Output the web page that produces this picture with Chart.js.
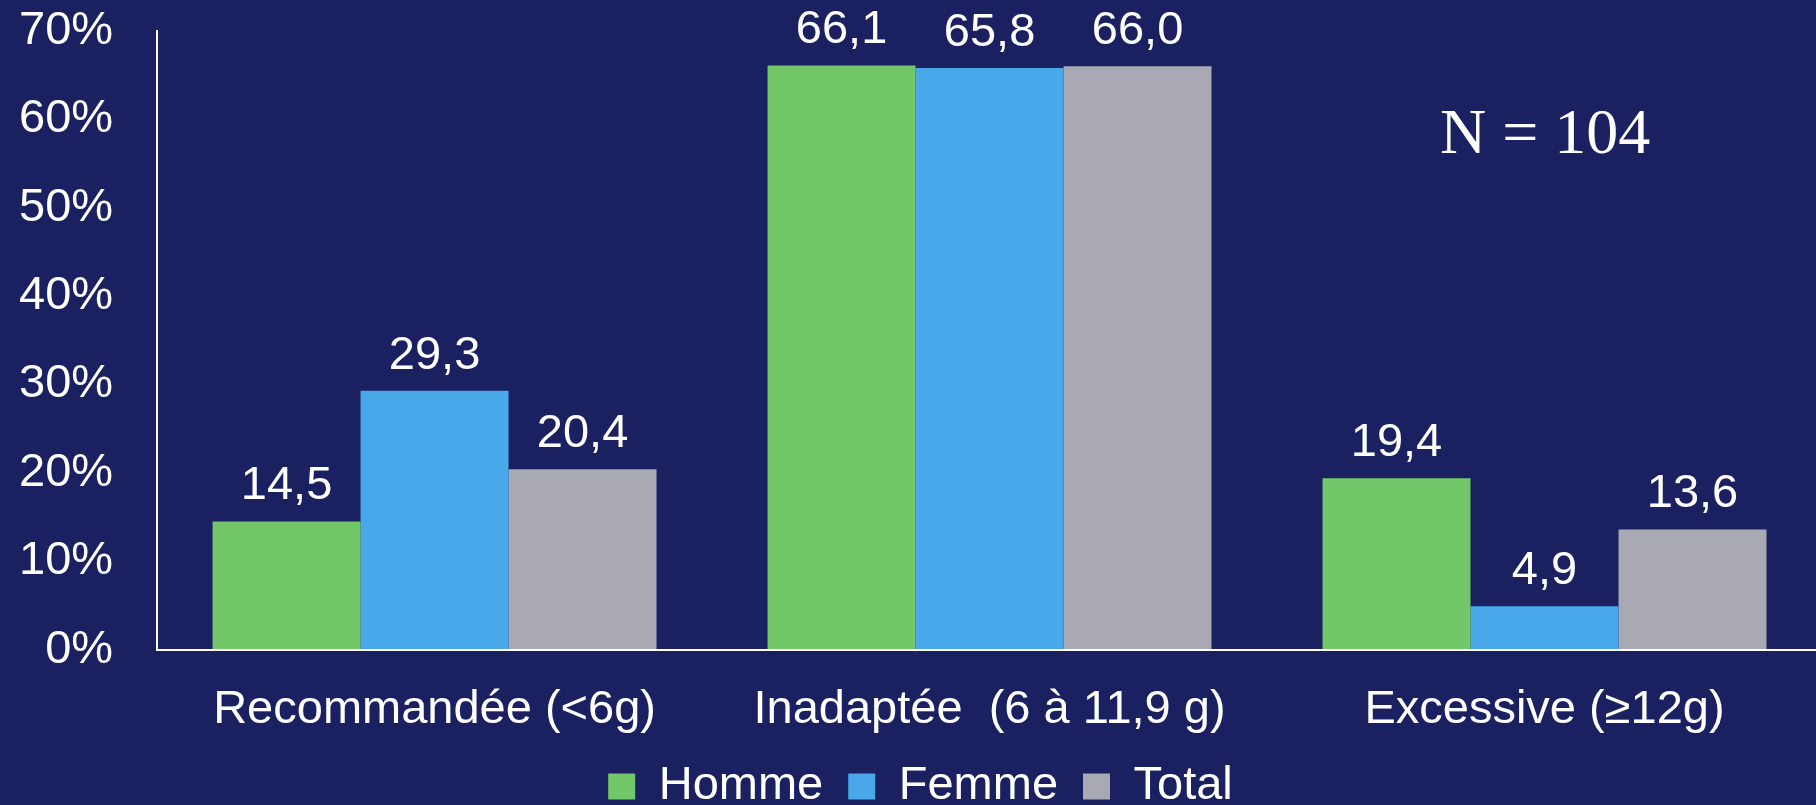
<!DOCTYPE html>
<html lang="fr">
<head>
<meta charset="UTF-8">
<title>Consommation de sel</title>
<script src="https://cdn.jsdelivr.net/npm/chart.js"></script>
<style>
  html, body {
    margin: 0;
    padding: 0;
    overflow: hidden;
    background: #1a2060;
  }
  .graphique {
    position: absolute;
    left: 0;
    top: 0;
    width: 1822px;
    height: 820px;
  }
</style>
</head>
<body>
<div class="graphique">
  <canvas id="graphiqueSel"></canvas>
</div>

<script>
// catégories et pourcentages par groupe
const categories = ['Recommandée (<6g)', 'Inadaptée  (6 à 11,9 g)', 'Excessive (≥12g)'];
const homme = [14.5, 66.1, 19.4];
const femme = [29.3, 65.8, 4.9];
const total = [20.4, 66.0, 13.6];
const effectif = 'N = 104';

const blanc = '#ffffff';
const police = 'Liberation Sans, Arial, sans-serif';

// valeurs au-dessus des barres + effectif en haut à droite
const etiquettes = {
  id: 'etiquettes',
  afterDatasetsDraw(chart) {
    const ctx = chart.ctx;
    ctx.save();
    ctx.fillStyle = blanc;
    ctx.font = '47px ' + police;
    ctx.textAlign = 'center';
    ctx.textBaseline = 'alphabetic';
    chart.data.datasets.forEach((ds, i) => {
      chart.getDatasetMeta(i).data.forEach((barre, j) => {
        ctx.fillText(ds.data[j].toFixed(1).replace('.', ','), barre.x, barre.y - 22);
      });
    });
    ctx.font = '64px Liberation Serif, Times New Roman, serif';
    ctx.textAlign = 'left';
    ctx.fillText(effectif, 1440, 153);
    ctx.restore();
  }
};

new Chart(document.getElementById('graphiqueSel'), {
  type: 'bar',
  data: {
    labels: categories,
    datasets: [
      { label: 'Homme', data: homme, backgroundColor: '#72c768', borderWidth: 0 },
      { label: 'Femme', data: femme, backgroundColor: '#48a8ea', borderWidth: 0 },
      { label: 'Total', data: total, backgroundColor: '#a9a9b4', borderWidth: 0 }
    ]
  },
  options: {
    responsive: true,
    maintainAspectRatio: false,
    animation: false,
    categoryPercentage: 0.8,
    barPercentage: 1.0,
    layout: { padding: { left: 19, top: 31, right: 0, bottom: 0 } },
    scales: {
      x: {
        // traits de graduation invisibles : ils servent seulement d'espace
        grid: { color: 'transparent', drawOnChartArea: false, tickLength: 32 },
        border: { color: blanc, width: 2 },
        ticks: { color: blanc, font: { size: 47, family: police }, padding: 0, maxRotation: 0 }
      },
      y: {
        min: 0,
        max: 70,
        grid: { color: 'transparent', drawOnChartArea: false, tickLength: 44 },
        border: { color: blanc, width: 2 },
        ticks: {
          stepSize: 10,
          color: blanc,
          font: { size: 47, family: police },
          padding: 0,
          callback: v => v + '%'
        }
      }
    },
    plugins: {
      tooltip: { enabled: false },
      legend: {
        position: 'bottom',
        labels: {
          color: blanc,
          font: { size: 47, family: police },
          boxWidth: 27,
          boxHeight: 26,
          padding: 25
        }
      }
    }
  },
  plugins: [etiquettes]
});
</script>
</body>
</html>
